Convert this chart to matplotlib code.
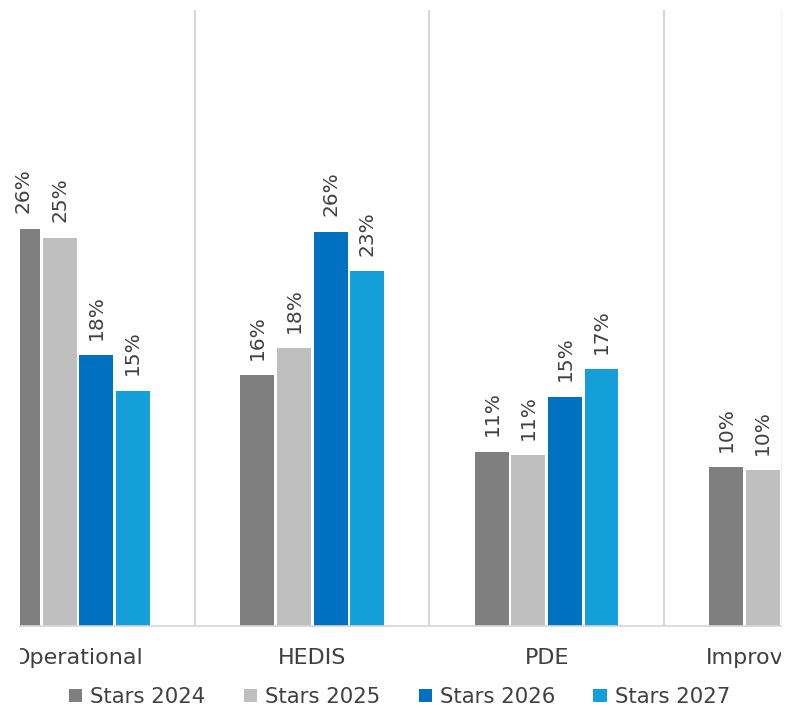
import numpy as np
import matplotlib
matplotlib.use("Agg")
import matplotlib.pyplot as plt
from matplotlib.transforms import Bbox, TransformedBbox

categories = ["Operational", "HEDIS", "PDE", "Improvement"]
series = ["Stars 2024", "Stars 2025", "Stars 2026", "Stars 2027"]
stars_2024 = [26.0, 16.4, 11.4, 10.4]
stars_2025 = [25.4, 18.2, 11.2, 10.2]
stars_2026 = [17.7, 25.8, 15.0, np.nan]
stars_2027 = [15.4, 23.2, 16.8, np.nan]
values = [stars_2024, stars_2025, stars_2026, stars_2027]
colors = ["#7f7f7f", "#bfbfbf", "#0070c0", "#159fd8"]
text_color = "#404040"

W, H = 799, 718
fig = plt.figure(figsize=(W / 100, H / 100), dpi=100)
# chart area: px 20..781 horizontally, 10..626 vertically
ax = fig.add_axes([20 / W, (H - 626) / H, 761 / W, 616 / H])

x = np.arange(len(categories))
step = 0.156
width = 0.145
for i, (name, vals, c) in enumerate(zip(series, values, colors)):
    bars = ax.bar(x + (i - 1.5) * step, vals, width, color=c, label=name)
    labels = ["" if np.isnan(v) else f"{v:.0f}%" for v in vals]
    texts = ax.bar_label(bars, labels=labels, rotation=90, padding=11,
                         fontsize=14.5, color=text_color)
    for t in texts:
        t.set_clip_on(True)

for b in [0.5, 1.5, 2.5]:
    ax.axvline(b, color="#d6d6d6", lw=1.5, zorder=0)

ax.set_xlim((20 - 78) / 234.5, (781 - 78) / 234.5)
ax.set_ylim(0, 40.3)
ax.set_xticks(x)
ax.set_xticklabels(categories, fontsize=16, color=text_color)
ax.tick_params(axis="x", length=0, pad=16)
ax.set_yticks([])
for s in ["top", "left"]:
    ax.spines[s].set_visible(False)
ax.spines["right"].set_color("#f2f2f2")
ax.spines["bottom"].set_color("#d6d6d6")
ax.spines["bottom"].set_linewidth(1.2)

fig.legend(loc="center", bbox_to_anchor=(0.5, (H - 697) / H), ncol=4,
           frameon=False, fontsize=15.3, labelcolor=text_color,
           handlelength=0.62, handleheight=0.62, handletextpad=0.38,
           columnspacing=1.8, borderpad=0)

fig.canvas.draw()
clip = TransformedBbox(Bbox([[20 / W, 0], [781 / W, 1]]), fig.transFigure)
for t in ax.get_xticklabels():
    t.set_clip_box(clip)
    t.set_clip_on(True)

fig.savefig("out.png", dpi=100)
